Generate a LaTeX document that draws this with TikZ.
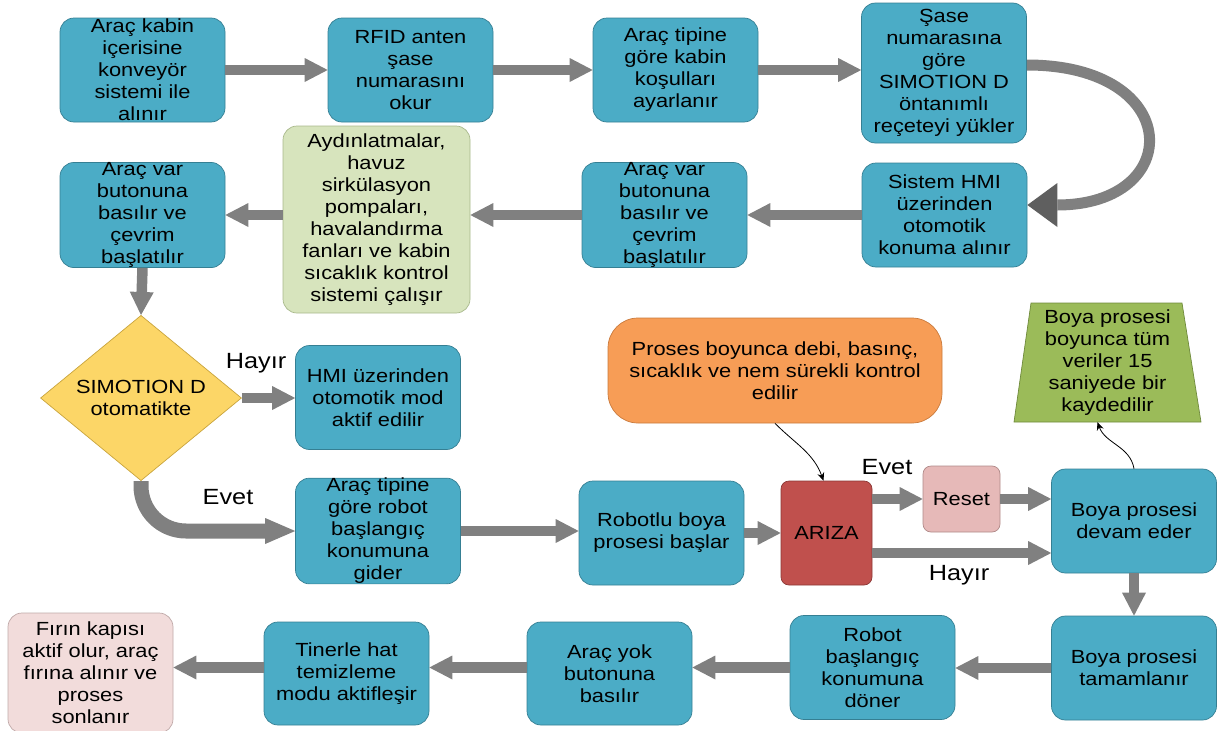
\documentclass[tikz,border=0pt]{standalone}
\usepackage{fontspec}
\setmainfont{Liberation Sans}[FakeStretch=1.15]
\usetikzlibrary{arrows.meta,shapes.geometric}
\definecolor{boxblue}{HTML}{4BACC6}
\definecolor{boxline}{HTML}{357F93}
\definecolor{agray}{HTML}{808080}
\definecolor{dgray}{HTML}{5F5F5F}
\definecolor{lgreen}{HTML}{D7E4BD}
\definecolor{lgreenline}{HTML}{A9B98C}
\definecolor{dyellow}{HTML}{FCD667}
\definecolor{dyellowline}{HTML}{C9A43C}
\definecolor{orng}{HTML}{F79D56}
\definecolor{orngline}{HTML}{C97A3C}
\definecolor{arizac}{HTML}{C0504D}
\definecolor{arizaline}{HTML}{8C3836}
\definecolor{resetc}{HTML}{E6B9B8}
\definecolor{resetline}{HTML}{B08988}
\definecolor{trapc}{HTML}{9BBB59}
\definecolor{trapline}{HTML}{6F8A3C}
\definecolor{firinc}{HTML}{F2DCDB}
\definecolor{firinline}{HTML}{BFA9A8}
\begin{document}
\begin{tikzpicture}[x=1pt,y=-1pt,
 txt/.style={font=\fontsize{19}{22}\selectfont, align=center, inner sep=0pt},
 box/.style={txt, draw=boxline, fill=boxblue, line width=0.7pt, rounded corners=14pt, minimum width=165pt, minimum height=104pt},
 blk/.style={draw=agray, line width=10.5pt, -{Triangle[length=23pt,width=24pt,line width=0pt]}},
 thinarr/.style={draw=black, line width=0.8pt, -{Stealth[length=8pt,width=7pt]}},
 lbl/.style={font=\fontsize{22}{24}\selectfont, inner sep=0pt},
]
\useasboundingbox (0,0) rectangle (1219,731);

% row 1
\node[box] (A) at (142.5,70) {Araç kabin\\içerisine\\konveyör\\sistemi ile\\alınır};
\node[box] (B) at (410.5,70) {RFID anten\\şase\\numarasını\\okur};
\node[box] (C) at (675.5,70) {Araç tipine\\göre kabin\\koşulları\\ayarlanır};
\node[box, minimum height=140pt] (D) at (944,73) {Şase\\numarasına\\göre\\SIMOTION D\\öntanımlı\\reçeteyi yükler};

% row 2
\node[box] (E) at (944.5,215) {Sistem HMI\\üzerinden\\otomotik\\konuma alınır};
\node[box] (F) at (664.5,215) {Araç var\\butonuna\\basılır ve\\çevrim\\başlatılır};
\node[box, fill=lgreen, draw=lgreenline, minimum width=187pt, minimum height=187pt] (G) at (376.5,219.5) {Aydınlatmalar,\\havuz\\sirkülasyon\\pompaları,\\havalandırma\\fanları ve kabin\\sıcaklık kontrol\\sistemi çalışır};
\node[box] (H) at (142.5,215) {Araç var\\butonuna\\basılır ve\\çevrim\\başlatılır};

% decision
\node[txt, shape=diamond, draw=dyellowline, fill=dyellow, line width=0.7pt, minimum width=201pt, minimum height=155pt] (dia) at (141,398) {SIMOTION D\\otomatikte};
\node[box] (I) at (378,397.5) {HMI üzerinden\\otomotik mod\\aktif edilir};
\node[box] (J) at (378,531) {Araç tipine\\göre robot\\başlangıç\\konumuna\\gider};
\node[box] (K) at (661.5,533) {Robotlu boya\\prosesi başlar};
\node[box, fill=arizac, draw=arizaline, rounded corners=8pt, minimum width=91pt, minimum height=104pt] (ARIZA) at (826.5,533) {ARIZA};
\node[box, fill=orng, draw=orngline, rounded corners=30pt, minimum width=334pt, minimum height=105pt] (orange) at (775,370.5) {Proses boyunca debi, basınç,\\sıcaklık ve nem sürekli kontrol\\edilir};
\node[box, fill=resetc, draw=resetline, rounded corners=8pt, minimum width=77pt, minimum height=66pt] (Reset) at (961.5,499) {Reset};
\node[box] (devam) at (1134,521) {Boya prosesi\\devam eder};

% log trapezoid
\draw[fill=trapc, draw=trapline, line width=0.7pt] (1031,303) -- (1182,303) -- (1201,422) -- (1014,422) -- cycle;
\node[txt, minimum width=187pt, minimum height=119pt] (log) at (1107.5,362.5) {Boya prosesi\\boyunca tüm\\veriler 15\\saniyede bir\\kaydedilir};

% bottom row
\node[box] (tamam) at (1134,668) {Boya prosesi\\tamamlanır};
\node[box] (robot) at (872.5,667.5) {Robot\\başlangıç\\konumuna\\döner};
\node[box, minimum height=103pt] (yok) at (609.5,673.5) {Araç yok\\butonuna\\basılır};
\node[box, minimum height=103pt] (tiner) at (346.5,673.5) {Tinerle hat\\temizleme\\modu aktifleşir};
\node[box, fill=firinc, draw=firinline, minimum height=120pt] (firin) at (90.5,673) {Fırın kapısı\\aktif olur, araç\\fırına alınır ve\\proses\\sonlanır};

% labels
\node[lbl] (l1) at (256,363) {Hayır};
\node[lbl] (l2) at (228,497) {Evet};
\node[lbl] (l3) at (887,467) {Evet};
\node[lbl] (l4) at (959,575) {Hayır};

% connectors
\draw[blk] (A.east) -- (B.west);
\draw[blk] (B.east) -- (C.west);
\draw[blk] (C.east) -- (C.east -| D.west);
\draw[draw=agray, line width=11pt, -{Triangle[length=30pt,width=44pt,line width=0pt,color=dgray,fill=dgray]}] ([yshift=8pt]D.east) .. controls (1185,65) and (1185,205) .. ([yshift=10pt]E.east);
\draw[blk] (E.west) -- (F.east);
\draw[blk] (F.west) -- (F.west -| G.east);
\draw[blk] (G.west |- H.east) -- (H.east);
\draw[blk] (H.south) -- (dia.north);
\draw[blk] (dia.east) -- (dia.east -| I.west);
\draw[blk, line width=15pt, rounded corners=45pt, -{Triangle[length=30pt,width=26pt,line width=0pt]}] (dia.south) |- (J.west);
\draw[blk] (J.east) -- (J.east -| K.west);
\draw[blk] (K.east) -- (ARIZA.west);
\draw[blk] (ARIZA.east |- Reset.west) -- (Reset.west);
\draw[blk] (Reset.east) -- (Reset.east -| devam.west);
\draw[blk] ([yshift=-20pt]ARIZA.east) -- ([yshift=-20pt]ARIZA.east -| devam.west);
\draw[thinarr] (orange.south) to[out=-45,in=110] ([xshift=-3pt]ARIZA.north);
\draw[thinarr] (devam.north) to[out=100,in=-70] ([xshift=-10pt]log.south);
\draw[blk] (devam.south) -- (tamam.north);
\draw[blk] (tamam.west) -- (tamam.west -| robot.east);
\draw[blk] (robot.west) -- (robot.west -| yok.east);
\draw[blk] (yok.west |- robot.west) -- (tiner.east |- robot.west);
\draw[blk] (tiner.west |- robot.west) -- (firin.east |- robot.west);
\end{tikzpicture}
\end{document}
